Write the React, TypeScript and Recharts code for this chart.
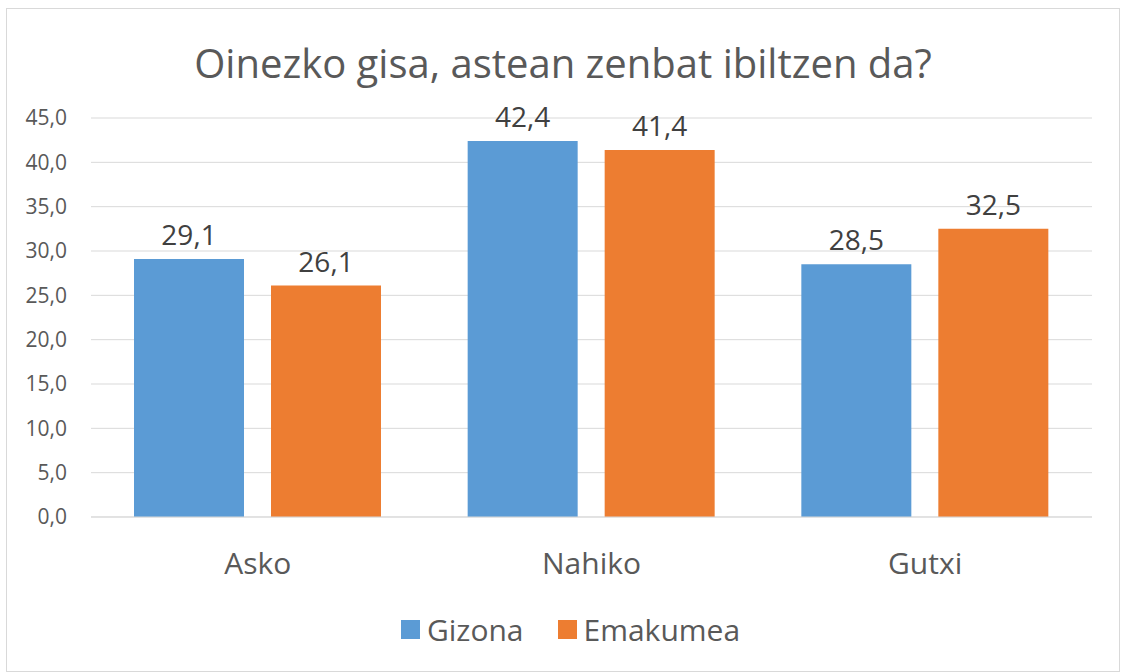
import { BarChart, Bar, XAxis, YAxis, CartesianGrid, LabelList, Legend } from "recharts";

const categories = ["Asko", "Nahiko", "Gutxi"];
const gizona = [29.1, 42.4, 28.5];
const emakumea = [26.1, 41.4, 32.5];
const yTicks = [0, 5, 10, 15, 20, 25, 30, 35, 40, 45];

const BLUE = "#5B9BD5";
const ORANGE = "#ED7D31";
const FONT = "'Open Sans', 'Noto Sans', sans-serif";

const data = categories.map((name, i) => ({
  name,
  gizona: gizona[i],
  emakumea: emakumea[i],
}));

const fmt = (v: number) => v.toFixed(1).replace(".", ",");

function LegendBox() {
  const items = [
    { label: "Gizona", color: BLUE },
    { label: "Emakumea", color: ORANGE },
  ];
  return (
    <div
      style={{
        height: 35,
        display: "flex",
        justifyContent: "center",
        alignItems: "center",
        gap: 34,
        paddingLeft: 42,
        fontFamily: FONT,
        fontSize: 30,
        color: "#595959",
      }}
    >
      {items.map((it) => (
        <div key={it.label} style={{ display: "flex", alignItems: "center", gap: 7 }}>
          <span style={{ width: 19, height: 19, background: it.color, display: "inline-block" }} />
          <span>{it.label}</span>
        </div>
      ))}
    </div>
  );
}

export default function App() {
  return (
    <div
      style={{
        position: "absolute",
        left: 6,
        top: 8,
        width: 1114,
        height: 664,
        boxSizing: "border-box",
        border: "1px solid #d9d9d9",
        background: "#fff",
        fontFamily: FONT,
      }}
    >
      <div
        style={{
          position: "absolute",
          left: 0,
          right: 0,
          top: 30,
          textAlign: "center",
          fontSize: 40,
          color: "#595959",
          lineHeight: "48px",
        }}
      >
        Oinezko gisa, astean zenbat ibiltzen da?
      </div>
      <BarChart
        width={1112}
        height={662}
        data={data}
        margin={{ top: 109, right: 27, left: 0, bottom: 24 }}
        barCategoryGap={43}
        barGap={27}
      >
        <CartesianGrid vertical={false} stroke="#d9d9d9" />
        <XAxis
          dataKey="name"
          height={95}
          tickSize={0}
          tickMargin={36}
          tickLine={false}
          axisLine={{ stroke: "#d9d9d9" }}
          tick={{ fontSize: 30, fill: "#595959", fontFamily: FONT }}
        />
        <YAxis
          width={84}
          domain={[0, 45]}
          ticks={yTicks}
          tickFormatter={fmt}
          tickSize={0}
          tickMargin={24}
          axisLine={false}
          tickLine={false}
          tick={{ fontSize: 21, fill: "#595959", fontFamily: FONT }}
        />
        <Legend verticalAlign="bottom" height={35} content={() => <LegendBox />} />
        <Bar dataKey="gizona" fill={BLUE} isAnimationActive={false}>
          <LabelList
            dataKey="gizona"
            position="top"
            offset={14}
            formatter={(v: any) => fmt(Number(v))}
            style={{ fontSize: 28, fill: "#404040", fontFamily: FONT }}
          />
        </Bar>
        <Bar dataKey="emakumea" fill={ORANGE} isAnimationActive={false}>
          <LabelList
            dataKey="emakumea"
            position="top"
            offset={14}
            formatter={(v: any) => fmt(Number(v))}
            style={{ fontSize: 28, fill: "#404040", fontFamily: FONT }}
          />
        </Bar>
      </BarChart>
    </div>
  );
}
